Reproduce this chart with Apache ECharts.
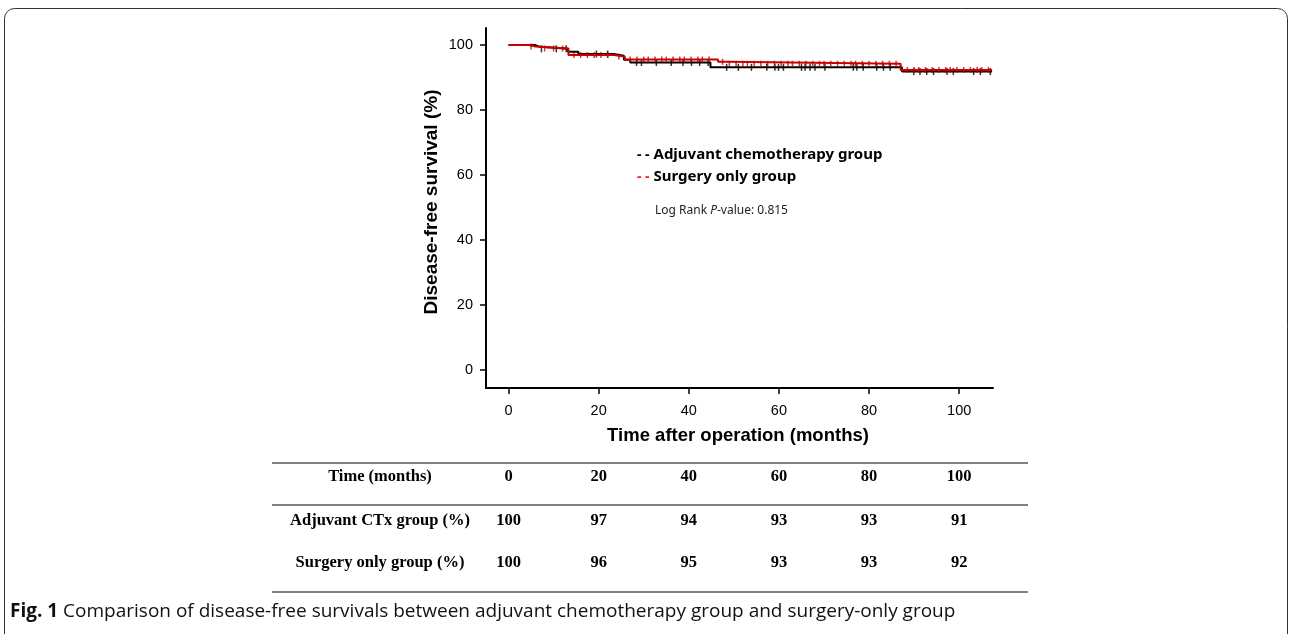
<!DOCTYPE html>
<html><head><meta charset="utf-8">
<script src="https://cdn.jsdelivr.net/npm/echarts@6/dist/echarts.min.js"></script>
<style>html,body{margin:0;padding:0;background:#fff}#c{width:1292px;height:634px}</style>
</head><body><div id="c"></div>
<script>
// ---- data ----
const adjTime = [0, 5.8, 7.0, 13.2, 15.5, 23.3, 25.6, 27.0, 44.8, 87.3, 107.3];
const adjSurv = [100, 99.4, 98.8, 97.9, 97.2, 96.7, 95.4, 94.6, 93.1, 91.8, 91.8];
const surgTime = [0, 4.5, 6.0, 13.3, 23.3, 25.8, 46.5, 48.5, 87.0, 107.3];
const surgSurv = [100, 99.5, 98.9, 96.9, 96.4, 95.5, 94.8, 94.2, 92.3, 92.3];
const adjCensor = [7.3, 10.6, 12.8, 19.5, 22, 28.4, 29.5, 32.8, 36.1, 38.7, 40.6, 42.4, 44.3, 48.4, 51, 53.9, 57.3, 59.1, 59.9, 61, 65, 65.8, 66.9, 68, 70.2, 76.5, 77.3, 78.7, 81.7, 83.2, 84.7, 89.9, 91.3, 92.8, 94.3, 97.3, 98.7, 103.2, 104.7, 106.9];
const surgCensor = [5, 8, 10, 12, 14.5, 16, 17.5, 19, 20.5, 22, 24.5, 27, 28.5, 30, 31, 32.5, 34, 35, 36.5, 38, 39, 40.5, 42, 43, 44.5, 47.5, 49, 50.5, 52, 53, 54.5, 56, 57.5, 59, 60.5, 62, 63, 64.5, 66, 67.5, 69, 70, 71.5, 73, 74.5, 76, 77, 78.5, 80, 81.5, 83, 84.5, 86, 88.5, 90, 91, 92.5, 94, 95.5, 97, 98, 99.5, 101, 102.5, 104, 105, 106.5];
const xTicks = [0, 20, 40, 60, 80, 100];
const yTicks = [0, 20, 40, 60, 80, 100];
const tableHeader = ['Time (months)', '0', '20', '40', '60', '80', '100'];
const tableRowAdj = ['Adjuvant CTx group (%)', '100', '97', '94', '93', '93', '91'];
const tableRowSurg = ['Surgery only group (%)', '100', '96', '95', '93', '93', '92'];
const tableCols = [0, 20, 40, 60, 80, 100];

function stepVal(times, surv, t) {
  let v = surv[0];
  for (let i = 0; i < times.length; i++) if (times[i] <= t) v = surv[i];
  return v;
}
const zip = (a, b) => a.map((t, i) => [t, b[i]]);

const RED = '#c80000';
const chart = echarts.init(document.getElementById('c'));
const option = {
  animation: false,
  grid: { left: 486, top: 28, width: 507, height: 360 },
  xAxis: {
    type: 'value', min: -5, max: 107.5,
    axisLine: { show: true, onZero: false, lineStyle: { color: '#000', width: 2 } },
    axisTick: { show: true, length: 6, customValues: xTicks, lineStyle: { color: '#000', width: 1.5 } },
    axisLabel: { customValues: xTicks, margin: 15, color: '#000', fontSize: 14.5, fontFamily: 'Liberation Sans' },
    splitLine: { show: false }
  },
  yAxis: {
    type: 'value', min: -5.5, max: 105.2,
    axisLine: { show: true, onZero: false, lineStyle: { color: '#000', width: 2 } },
    axisTick: { show: true, length: 6, customValues: yTicks, lineStyle: { color: '#000', width: 1.5 } },
    axisLabel: { customValues: yTicks, margin: 13, color: '#000', fontSize: 14.5, fontFamily: 'Liberation Sans' },
    splitLine: { show: false }
  },
  series: [
    { type: 'line', step: 'end', data: zip(adjTime, adjSurv), showSymbol: false, lineStyle: { color: '#000', width: 2 }, z: 2 },
    { type: 'scatter', data: adjCensor.map(t => [t, stepVal(adjTime, adjSurv, t)]), symbol: 'rect', symbolSize: [1.5, 7], itemStyle: { color: '#000' }, z: 2 },
    { type: 'line', step: 'end', data: zip(surgTime, surgSurv), showSymbol: false, lineStyle: { color: RED, width: 2 }, z: 3 },
    { type: 'scatter', data: surgCensor.map(t => [t, stepVal(surgTime, surgSurv, t)]), symbol: 'rect', symbolSize: [1.5, 6], itemStyle: { color: RED }, z: 3 }
  ]
};
chart.setOption(option);

// ---- text, legend, table, caption ----
const g = [];
g.push({ type: 'rect', shape: { x: 4.5, y: 8.5, width: 1283, height: 700, r: 10 }, style: { fill: 'none', stroke: '#333', lineWidth: 1 }, silent: true });
g.push({ type: 'text', x: 432, y: 202, rotation: Math.PI / 2, style: { text: 'Disease-free survival (%)', fontSize: 19, fontWeight: 'bold', fontFamily: 'Liberation Sans', fill: '#000', align: 'center', verticalAlign: 'middle' } });
g.push({ type: 'text', x: 738, y: 436, style: { text: 'Time after operation (months)', fontSize: 18.5, fontWeight: 'bold', fontFamily: 'Liberation Sans', fill: '#000', align: 'center', verticalAlign: 'middle' } });
g.push({ type: 'text', x: 637, y: 155, style: { text: '{d|- -} Adjuvant chemotherapy group', fontSize: 15, fontWeight: 'bold', fontFamily: 'Noto Sans', fill: '#000', verticalAlign: 'middle', rich: { d: { fill: '#000', fontSize: 14, fontWeight: 'bold', fontFamily: 'Noto Sans' } } } });
g.push({ type: 'text', x: 637, y: 177, style: { text: '{d|- -} Surgery only group', fontSize: 15, fontWeight: 'bold', fontFamily: 'Noto Sans', fill: '#000', verticalAlign: 'middle', rich: { d: { fill: '#ff1a1a', fontSize: 14, fontWeight: 'bold', fontFamily: 'Noto Sans' } } } });
g.push({ type: 'text', x: 655, y: 211, style: { text: 'Log Rank {i|P}-value: 0.815', fontSize: 12, fontFamily: 'Noto Sans', fill: '#222', verticalAlign: 'middle', rich: { i: { fontStyle: 'italic', fontSize: 12, fontFamily: 'Noto Sans', fill: '#222' } } } });

// table
[463, 505, 592].forEach(y => g.push({ type: 'line', shape: { x1: 272, y1: y, x2: 1028, y2: y }, style: { stroke: '#000', lineWidth: 1 } }));
const rows = [[tableHeader, 477], [tableRowAdj, 521], [tableRowSurg, 563]];
rows.forEach(([row, y]) => {
  row.forEach((txt, i) => {
    const x = i === 0 ? 380 : chart.convertToPixel({ xAxisIndex: 0 }, tableCols[i - 1]);
    g.push({ type: 'text', x: x, y: y, style: { text: txt, fontSize: 16.5, fontWeight: 'bold', fontFamily: 'Liberation Serif', fill: '#000', align: 'center', verticalAlign: 'middle' } });
  });
});
g.push({ type: 'text', x: 10, y: 612, style: { text: '{b|Fig. 1} Comparison of disease-free survivals between adjuvant chemotherapy group and surgery-only group', fontSize: 19, fontFamily: 'Open Sans', fill: '#111', verticalAlign: 'middle', rich: { b: { fontWeight: 'bold', fontSize: 19, fontFamily: 'Open Sans', fill: '#111' } } } });
chart.setOption({ graphic: g });
</script>
</body></html>
